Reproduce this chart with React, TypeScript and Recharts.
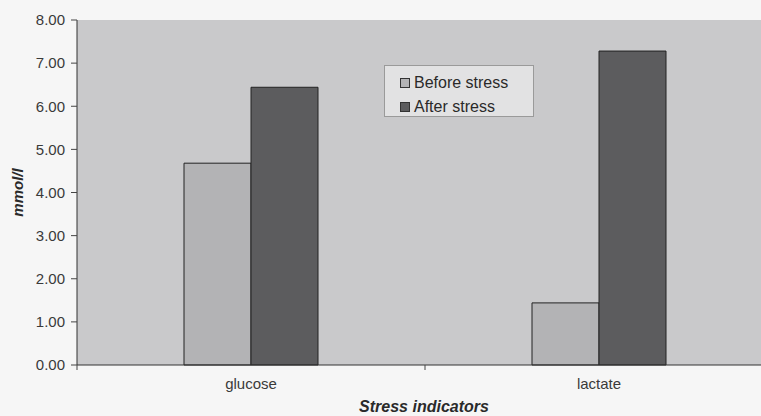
import { BarChart, Bar, XAxis, YAxis, Legend, CartesianGrid } from "recharts";

const categories = ["glucose", "lactate"];
const beforeStress = [4.68, 1.44];
const afterStress = [6.44, 7.28];
const yTicks = [0, 1, 2, 3, 4, 5, 6, 7, 8];

const data = categories.map((name, i) => ({
  name,
  before: beforeStress[i],
  after: afterStress[i],
}));

const W = 790;
const H = 416;
const margin = { top: 20, right: 17, left: 0, bottom: 0 };
const yAxisWidth = 77;
const band = (W - margin.left - margin.right - yAxisWidth) / categories.length;

const font = "'Liberation Sans', Arial, sans-serif";
const BEFORE = "#b3b3b5";
const AFTER = "#5c5c5e";

function CategoryTick(props: any) {
  const { x, y, payload, index } = props;
  const isLast = index === categories.length - 1;
  return (
    <g>
      <line x1={x - band / 2} y1={y - 8} x2={x - band / 2} y2={y - 3} stroke="#444" />
      {isLast && <line x1={x + band / 2} y1={y - 8} x2={x + band / 2} y2={y - 3} stroke="#444" />}
      <text x={x} y={y + 16} textAnchor="middle" fontSize={15} fill="#3a3a3a" fontFamily={font}>
        {payload.value}
      </text>
    </g>
  );
}

function LegendBox() {
  const items = [
    { label: "Before stress", color: BEFORE },
    { label: "After stress", color: AFTER },
  ];
  return (
    <div
      style={{
        width: 150,
        height: 52,
        background: "#e2e2e3",
        border: "1px solid #9a9a9a",
        boxSizing: "border-box",
        padding: "6px 0 0 15px",
        fontFamily: font,
        fontSize: 16,
        color: "#2a2a2a",
      }}
    >
      {items.map((it) => (
        <div key={it.label} style={{ display: "flex", alignItems: "center", height: 21, marginBottom: 3 }}>
          <span
            style={{
              display: "inline-block",
              width: 8,
              height: 8,
              background: it.color,
              border: "1px solid #333",
              marginRight: 4,
            }}
          />
          {it.label}
        </div>
      ))}
    </div>
  );
}

function YLabel(props: any) {
  const vb = props.viewBox || { x: 0, y: 0, width: 0, height: 0 };
  const cx = 17;
  const cy = vb.y + vb.height / 2;
  return (
    <text
      x={cx}
      y={cy}
      transform={`rotate(-90 ${cx} ${cy})`}
      textAnchor="middle"
      dominantBaseline="central"
      fontSize={15}
      fontWeight="bold"
      fontStyle="italic"
      fill="#2a2a2a"
      fontFamily={font}
    >
      mmol/l
    </text>
  );
}

function XTitle(props: any) {
  const vb = props.viewBox || { x: 0, y: 0, width: 0, height: 0 };
  return (
    <text
      x={vb.x + vb.width / 2 - 1}
      y={vb.y + vb.height - 4}
      textAnchor="middle"
      fontSize={16}
      fontWeight="bold"
      fontStyle="italic"
      fill="#2a2a2a"
      fontFamily={font}
    >
      Stress indicators
    </text>
  );
}

export default function App() {
  return (
    <div
      style={{
        position: "absolute",
        left: 0,
        top: 0,
        width: 761,
        height: 416,
        overflow: "hidden",
        background: "#f6f6f6",
      }}
    >
      <BarChart
        width={W}
        height={H}
        data={data}
        margin={margin}
        barCategoryGap="30.75%"
        barGap={0}
      >
        <CartesianGrid horizontal={false} vertical={false} fill="#c9c9cb" />
        <XAxis
          dataKey="name"
          height={51}
          axisLine={{ stroke: "#333" }}
          tickLine={false}
          tick={<CategoryTick />}
          label={<XTitle />}
        />
        <YAxis
          width={yAxisWidth}
          domain={[0, 8]}
          ticks={yTicks}
          interval={0}
          tickFormatter={(v: number) => v.toFixed(2)}
          axisLine={{ stroke: "#333" }}
          tickLine={{ stroke: "#444" }}
          tickSize={6}
          tickMargin={6}
          tick={{ fontSize: 15, fill: "#3a3a3a", fontFamily: font }}
          label={<YLabel />}
        />
        <Legend
          layout="vertical"
          align="center"
          verticalAlign="middle"
          content={<LegendBox />}
          wrapperStyle={{ position: "absolute", left: 384, top: 65, width: 150, height: 52 }}
        />
        <Bar dataKey="before" name="Before stress" fill={BEFORE} stroke="#222" strokeWidth={1} isAnimationActive={false} />
        <Bar dataKey="after" name="After stress" fill={AFTER} stroke="#222" strokeWidth={1} isAnimationActive={false} />
      </BarChart>
    </div>
  );
}
